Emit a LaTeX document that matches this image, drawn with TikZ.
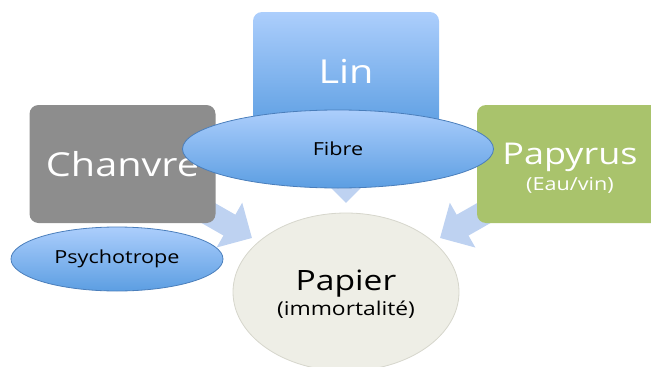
\documentclass[tikz,border=0pt]{standalone}
\usepackage{fontspec}
\setmainfont[FakeStretch=1.2]{Open Sans}
\usetikzlibrary{shapes.geometric,arrows.meta}
\definecolor{chgray}{RGB}{141,141,141}
\definecolor{pygreen}{RGB}{169,195,108}
\definecolor{arrblue}{RGB}{190,210,241}
\definecolor{bluetop}{RGB}{172,206,252}
\definecolor{bluebot}{RGB}{92,158,226}
\definecolor{blueedge}{RGB}{74,126,187}
\definecolor{papfill}{RGB}{238,238,230}
\definecolor{papedge}{RGB}{214,214,204}
\tikzset{
  box/.style={rectangle, rounded corners=9pt, minimum width=186pt, minimum height=118pt, inner sep=0pt, text=white},
  oval/.style={ellipse, draw=blueedge, line width=0.8pt, top color=bluetop, bottom color=bluebot, inner sep=0pt, text=black},
  bigarrow/.style={draw=arrblue, line width=24pt, -{Triangle[length=26pt,width=50pt]}},
}
\begin{document}
\begin{tikzpicture}[x=1pt,y=-1pt]
\useasboundingbox (0,0) rectangle (651,367);
\clip (0,0) rectangle (651,367);
% central ellipse
\node[ellipse, draw=papedge, fill=papfill, line width=0.8pt, minimum width=226pt, minimum height=158pt, inner sep=0pt] (papier) at (346,292) {};
\node[align=center, inner sep=0pt] (paplabel) at (346,294)
  {\fontsize{28}{30}\selectfont Papier\\[3pt]\fontsize{19}{22}\selectfont (immortalité)};
% box centres
\path (122.5,164) coordinate (cch) (346,71) coordinate (clin) (570,164) coordinate (cpy);
% arrows
\coordinate (tipL) at (252,238);
\coordinate (tipR) at (440,238);
\coordinate (tipD) at (346,203);
\draw[bigarrow] (cch) -- (tipL);
\draw[bigarrow] (cpy) -- (tipR);
\draw[bigarrow] (clin) -- (tipD);
% boxes
\node[box, fill=chgray] (chanvre) at (cch) {\fontsize{33}{36}\selectfont Chanvre};
\node[box, top color=bluetop, bottom color=bluebot] (lin) at (clin) {\fontsize{33}{36}\selectfont Lin};
\node[box, fill=pygreen] (papyrus) at (cpy) {};
\node[text=white, align=center, inner sep=0pt] (pylabel) at (570,168)
  {\fontsize{30}{32}\selectfont Papyrus\\[5pt]\fontsize{18}{20}\selectfont (Eau/vin)};
% ovals
\node[oval, minimum width=311pt, minimum height=78pt] (fibre) at (338,149) {\fontsize{18}{20}\selectfont Fibre};
\node[oval, minimum width=212pt, minimum height=64pt] (psycho) at (117,259) {\fontsize{18}{20}\selectfont Psychotrope};
\end{tikzpicture}
\end{document}
